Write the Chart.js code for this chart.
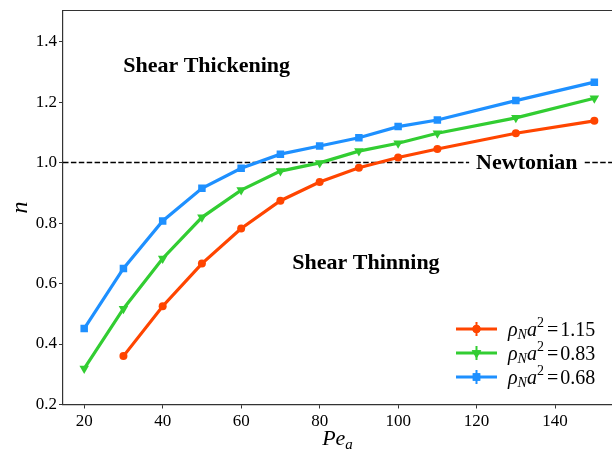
<!DOCTYPE html>
<html>
<head>
<meta charset="utf-8">
<script src="https://cdn.jsdelivr.net/npm/chart.js@4.4.1/dist/chart.umd.min.js"></script>
<style>
  html, body { margin: 0; padding: 0; background: #fff; }
  #wrap { width: 612px; height: 456px; }
</style>
</head>
<body>
<div id="wrap"><canvas id="chart" width="612" height="456"></canvas></div>
<script>
// Pe_a values and power-law index n for each density
const peRed = [30, 40, 50, 60, 70, 80, 90, 100, 110, 130, 150];
const nRed = [0.360, 0.525, 0.666, 0.782, 0.874, 0.936, 0.983, 1.017, 1.045, 1.097, 1.138];

const peGreen = [20, 30, 40, 50, 60, 70, 80, 90, 100, 110, 130, 150];
const nGreen = [0.319, 0.517, 0.683, 0.819, 0.909, 0.972, 0.999, 1.038, 1.064, 1.097, 1.148, 1.213];

const peBlue = [20, 30, 40, 50, 60, 70, 80, 90, 100, 110, 130, 150];
const nBlue = [0.451, 0.650, 0.807, 0.915, 0.981, 1.028, 1.055, 1.082, 1.119, 1.141, 1.205, 1.266];

const rhoLabels = ['1.15', '0.83', '0.68'];
const xTicks = [20, 40, 60, 80, 100, 120, 140];
const yTicks = [0.2, 0.4, 0.6, 0.8, 1.0, 1.2, 1.4];
const newtonianN = 1.0;

const SERIF = '"Liberation Serif", "DejaVu Serif", serif';
const colors = ['#ff4500', '#32cd32', '#1e90ff'];

function toPoints(xs, ys) {
    return xs.map((v, i) => ({ x: v, y: ys[i] }));
}

function drawPieces(ctx, x, y, pieces) {
    let cx = x;
    pieces.forEach(p => {
        ctx.font = p.font;
        ctx.fillText(p.t, cx, y + (p.dy || 0));
        cx += ctx.measureText(p.t).width + (p.gap || 0);
    });
}

const overlay = {
    id: 'overlay',
    beforeDatasetsDraw(chart) {
        const { ctx, chartArea: a, scales: { y } } = chart;
        const yy = y.getPixelForValue(newtonianN);
        ctx.save();
        ctx.strokeStyle = '#000';
        ctx.lineWidth = 1.5;
        ctx.setLineDash([5.5, 2.4]);
        ctx.beginPath();
        ctx.moveTo(a.left, yy);
        ctx.lineTo(a.right, yy);
        ctx.stroke();
        ctx.restore();
    },
    afterDatasetsDraw(chart) {
        const { ctx, scales: { x, y } } = chart;
        ctx.save();
        ctx.font = 'bold 22px ' + SERIF;
        ctx.textAlign = 'center';
        ctx.textBaseline = 'middle';
        ctx.fillStyle = '#000';
        ctx.fillText('Shear Thickening', x.getPixelForValue(51.2), y.getPixelForValue(1.32));
        ctx.fillText('Shear Thinning', x.getPixelForValue(91.8), y.getPixelForValue(0.667));

        const nx = x.getPixelForValue(132.8);
        const ny = y.getPixelForValue(newtonianN);
        const w = ctx.measureText('Newtonian').width;
        ctx.fillStyle = '#fff';
        ctx.fillRect(nx - w / 2 - 7, ny - 12, w + 14, 24);
        ctx.fillStyle = '#000';
        ctx.fillText('Newtonian', nx, ny + 1);
        ctx.restore();
    },
    afterDraw(chart) {
        const { ctx, chartArea: a } = chart;
        ctx.save();
        // top spine
        ctx.strokeStyle = '#333';
        ctx.lineWidth = 1.2;
        ctx.beginPath();
        ctx.moveTo(a.left, a.top);
        ctx.lineTo(a.right, a.top);
        ctx.stroke();

        // x axis title Pe_a
        ctx.fillStyle = '#000';
        ctx.textBaseline = 'alphabetic';
        ctx.textAlign = 'left';
        ctx.font = 'italic 22px ' + SERIF;
        const wPe = ctx.measureText('Pe').width;
        ctx.font = 'italic 15px ' + SERIF;
        const wA = ctx.measureText('a').width;
        const cx = (a.left + a.right) / 2 - (wPe + wA) / 2;
        drawPieces(ctx, cx, 445, [
            { t: 'Pe', font: 'italic 22px ' + SERIF },
            { t: 'a', font: 'italic 15px ' + SERIF, dy: 4 }
        ]);

        // legend
        const rows = [329, 353, 377];
        chart.data.datasets.forEach((ds, i) => {
            const ly = rows[i];
            ctx.strokeStyle = ds.borderColor;
            ctx.lineWidth = 3.2;
            ctx.beginPath();
            ctx.moveTo(456, ly);
            ctx.lineTo(497, ly);
            ctx.stroke();
            ctx.lineWidth = 2;
            ctx.beginPath();
            ctx.moveTo(476.5, ly - 7);
            ctx.lineTo(476.5, ly + 7);
            ctx.stroke();
            ctx.fillStyle = ds.borderColor;
            Chart.helpers.drawPoint(ctx, {
                pointStyle: ds.pointStyle,
                rotation: ds.pointRotation || 0,
                radius: ds.pointRadius,
                borderWidth: 0
            }, 476.5, ly);
            ctx.fill();

            ctx.fillStyle = '#000';
            ctx.textBaseline = 'alphabetic';
            const base = ly + 7;
            drawPieces(ctx, 508, base, [
                { t: '\u03c1', font: 'italic 20px ' + SERIF },
                { t: 'N', font: 'italic 14px ' + SERIF, dy: 3 },
                { t: 'a', font: 'italic 20px ' + SERIF },
                { t: '2', font: '14px ' + SERIF, dy: -9, gap: 3 },
                { t: '=', font: '20px ' + SERIF, gap: 2 },
                { t: rhoLabels[i], font: '20px ' + SERIF }
            ]);
        });
        ctx.restore();
    }
};

const ctx = document.getElementById('chart').getContext('2d');

new Chart(ctx, {
    type: 'line',
    data: {
        datasets: [
            {
                label: rhoLabels[0],
                data: toPoints(peRed, nRed),
                borderColor: colors[0],
                backgroundColor: colors[0],
                pointStyle: 'circle',
                pointRadius: 4
            },
            {
                label: rhoLabels[1],
                data: toPoints(peGreen, nGreen),
                borderColor: colors[1],
                backgroundColor: colors[1],
                pointStyle: 'triangle',
                pointRotation: 180,
                pointRadius: 5.5
            },
            {
                label: rhoLabels[2],
                data: toPoints(peBlue, nBlue),
                borderColor: colors[2],
                backgroundColor: colors[2],
                pointStyle: 'rect',
                pointRadius: 5.3
            }
        ]
    },
    options: {
        responsive: false,
        animation: false,
        layout: { autoPadding: false, padding: { top: 10.5, right: 0, left: 0, bottom: 0 } },
        elements: {
            line: { borderWidth: 3.2, tension: 0 },
            point: { borderWidth: 0, hoverRadius: 5 }
        },
        plugins: {
            legend: { display: false },
            tooltip: { enabled: false }
        },
        scales: {
            x: {
                type: 'linear',
                min: 14.6,
                max: 154.5,
                afterBuildTicks: s => { s.ticks = xTicks.map(v => ({ value: v })); },
                afterFit: s => { s.height = 51.5; s.paddingRight = 0; s.paddingLeft = 0; },
                border: { display: true, color: '#333', width: 1.2 },
                grid: { drawOnChartArea: false, drawTicks: true, tickLength: 4, color: '#333' },
                ticks: { color: '#000', font: { family: SERIF, size: 17 }, padding: 3, maxRotation: 0 }
            },
            y: {
                min: 0.2,
                max: 1.503,
                afterBuildTicks: s => { s.ticks = yTicks.map(v => ({ value: v })); },
                afterFit: s => { s.width = 63; s.paddingTop = 0; s.paddingBottom = 0; },
                border: { display: true, color: '#333', width: 1.2 },
                grid: { drawOnChartArea: false, drawTicks: true, tickLength: 4, color: '#333' },
                ticks: {
                    color: '#000',
                    font: { family: SERIF, size: 17 },
                    padding: 2,
                    callback: v => v.toFixed(1)
                },
                title: {
                    display: true,
                    text: 'n',
                    color: '#000',
                    font: { family: SERIF, size: 24, style: 'italic' },
                    padding: { top: 6, bottom: 0 }
                }
            }
        }
    },
    plugins: [overlay]
});
</script>
</body>
</html>
